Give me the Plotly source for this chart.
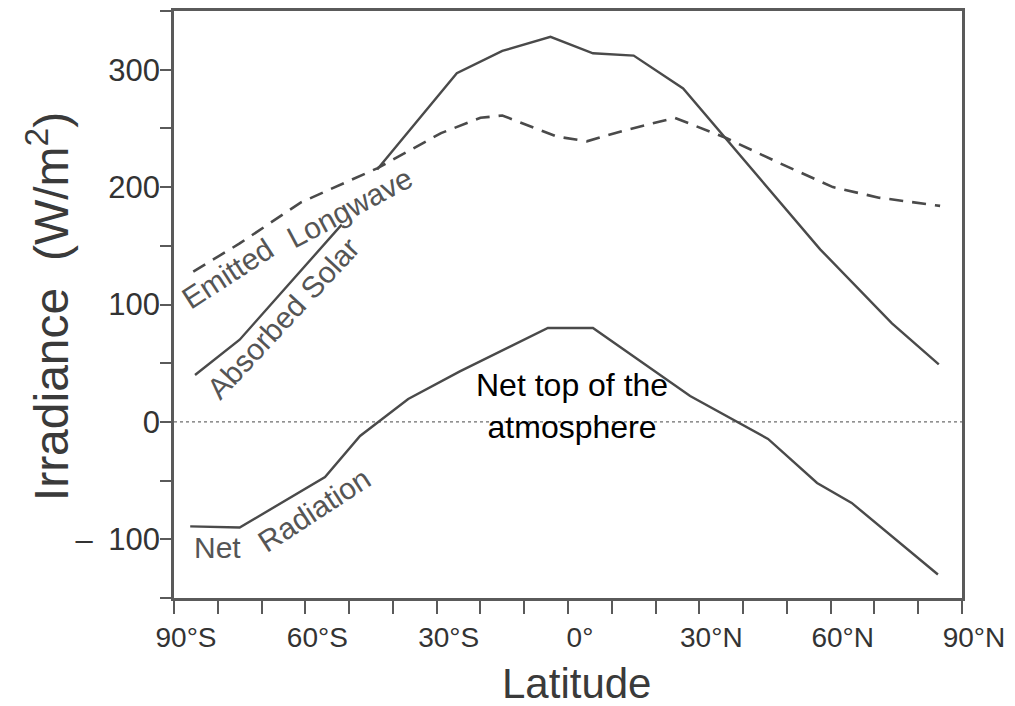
import plotly.graph_objects as go

# Zonal-mean top-of-atmosphere energy budget (W/m^2) against latitude (deg, south negative)
absorbed_lat = [-85.2, -75, -51.7, -48, -43.6, -25.4, -15, -4, 5.7, 15, 26.3, 57.6, 74, 84.7]
absorbed_val = [40, 70, 168, None, 215, 297, 316, 328, 314, 312, 284, 147, 84, 49]

emitted_lat = [-85.6, -75, -61, -43.6, -29, -20, -15, -8.7, -2.5, 4.3, 12.6, 24.4, 36, 48, 60.5, 71, 85]
emitted_val = [128, 152, 187, 216, 246, 259, 261, 252, 243, 239, 248, 259, 242, 221, 200, 191, 184]

net_lat = [-86.3, -75, -55.5, -47.5, -36.5, -24.7, -4.6, 5.7, 27.9, 45.7, 56.9, 64.8, 84.5]
net_val = [-89, -90, -47, -12, 19.5, 43, 80, 80, 22, -14.5, -52, -69, -130]

x_tick_vals = list(range(-90, 91, 10))
x_tick_text = ["90°S", "", "", "60°S", "", "", "30°S", "", "", "0°",
               "", "", "30°N", "", "", "60°N", "", "", "90°N"]
y_tick_vals = list(range(-150, 351, 50))
y_tick_text = ["", "\u2013\u2002100", "", "0", "", "100", "", "200", "", "300", ""]

LINE = "#4a4a4a"
AXIS = "#5a5a5a"
LABEL = "#555555"
FONT = "Liberation Sans, Arial, Helvetica, sans-serif"

fig = go.Figure()

# zero reference
fig.add_trace(go.Scatter(x=[-90, 90], y=[0, 0], mode="lines",
                         line=dict(color="#6e6e6e", width=1.4, dash="dot"),
                         hoverinfo="skip", showlegend=False))

fig.add_trace(go.Scatter(x=emitted_lat, y=emitted_val, mode="lines", name="Emitted Longwave",
                         line=dict(color=LINE, width=2.6, dash="14px,9px"), showlegend=False))
fig.add_trace(go.Scatter(x=absorbed_lat, y=absorbed_val, mode="lines", name="Absorbed Solar",
                         line=dict(color=LINE, width=2.4), connectgaps=False, showlegend=False))
fig.add_trace(go.Scatter(x=net_lat, y=net_val, mode="lines", name="Net Radiation",
                         line=dict(color=LINE, width=2.4), showlegend=False))

labels = [
    dict(text="Emitted", x=-77.7, y=126, textangle=-33),
    dict(text="Longwave", x=-49.8, y=183, textangle=-28),
    dict(text="Absorbed Solar", x=-65.1, y=88, textangle=-47),
    dict(text="Net", x=-80, y=-107, textangle=0),
    dict(text="Radiation", x=-57.8, y=-75, textangle=-33),
]
for lab in labels:
    fig.add_annotation(x=lab["x"], y=lab["y"], text=lab["text"], textangle=lab["textangle"],
                       showarrow=False, xanchor="center", yanchor="middle",
                       font=dict(family=FONT, size=30, color=LABEL))

fig.add_annotation(x=0.8, y=13.5, text="Net top of the<br>atmosphere", showarrow=False,
                   xanchor="center", yanchor="middle",
                   font=dict(family=FONT, size=32, color="#000000"))

# axis titles
fig.add_annotation(xref="paper", yref="paper", x=0.5114, y=-0.146, text="Latitude",
                   showarrow=False, xanchor="center", yanchor="middle",
                   font=dict(family=FONT, size=42, color="#3a3a3a"))
fig.add_annotation(xref="paper", yref="paper", x=-0.160, y=0.497, text="Irradiance  (W/m<sup>2</sup>)",
                   textangle=-90, showarrow=False, xanchor="center", yanchor="middle",
                   font=dict(family=FONT, size=48, color="#3a3a3a"))

fig.update_layout(
    width=1015, height=706,
    margin=dict(l=174, r=53, t=8, b=108),
    paper_bgcolor="white", plot_bgcolor="white",
    font=dict(family=FONT, color="#333333"),
    showlegend=False,
)

fig.update_xaxes(
    range=[-90, 90], tickmode="array", tickvals=x_tick_vals, ticktext=x_tick_text,
    ticks="outside", ticklen=13, tickwidth=2.4, tickcolor=AXIS,
    showline=True, linecolor=AXIS, linewidth=2.6, mirror=True,
    showgrid=False, zeroline=False, ticklabelshift=12,
    tickfont=dict(family=FONT, size=28, color="#333333"),
)
fig.update_yaxes(
    range=[-150, 350], tickmode="array", tickvals=y_tick_vals, ticktext=y_tick_text,
    ticks="outside", ticklen=11, tickwidth=2.4, tickcolor=AXIS,
    showline=True, linecolor=AXIS, linewidth=2.6, mirror=True,
    showgrid=False, zeroline=False, ticklabelstandoff=-6,
    tickfont=dict(family=FONT, size=31, color="#333333"),
)

fig.write_html("out.html")
